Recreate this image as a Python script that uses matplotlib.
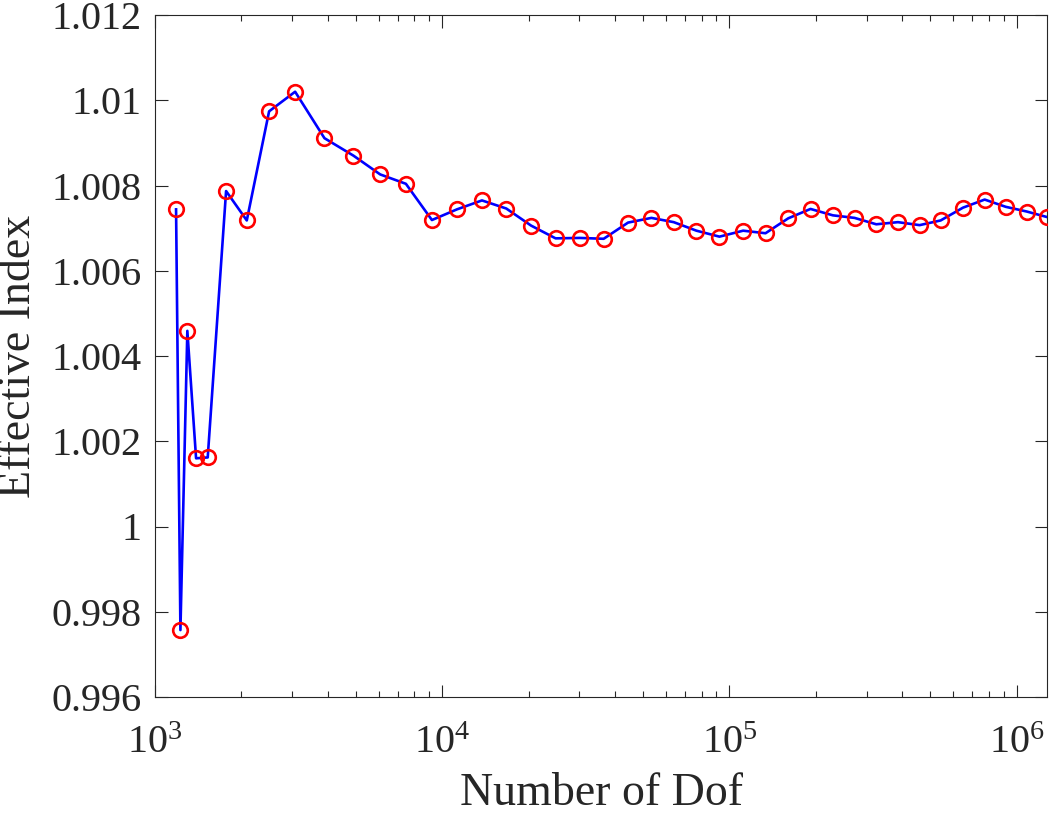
import matplotlib
matplotlib.use("Agg")
import matplotlib.pyplot as plt
from matplotlib.ticker import FixedLocator, FuncFormatter, LogLocator

dof = [1184, 1226, 1296, 1390, 1526, 1768, 2087, 2496, 3075, 3890, 4909, 6081,
       7473, 9207, 11250, 13750, 16710, 20380, 24810, 30090, 36480, 44360, 53480,
       63970, 76740, 92300, 111600, 133500, 160200, 191500, 229100, 272600,
       324400, 385900, 459200, 543500, 650100, 773500, 915700, 1083000, 1275000]
neff = [1.00744, 0.99757, 1.00459, 1.00160, 1.00162, 1.00787, 1.00718, 1.00974,
        1.01020, 1.00911, 1.00870, 1.00826, 1.00804, 1.00719, 1.00744, 1.00765,
        1.00746, 1.00706, 1.00676, 1.00677, 1.00675, 1.00713, 1.00724, 1.00714,
        1.00694, 1.00680, 1.00694, 1.00688, 1.00723, 1.00745, 1.00730, 1.00724,
        1.00709, 1.00714, 1.00707, 1.00718, 1.00748, 1.00767, 1.00750, 1.00739,
        1.00726]
yticks = [0.996, 0.998, 1.0, 1.002, 1.004, 1.006, 1.008, 1.010, 1.012]
xlabel = "Number of Dof"
ylabel = "Effective Index"

plt.rcParams['font.family'] = ['Liberation Serif', 'DejaVu Serif']
plt.rcParams['mathtext.fontset'] = 'custom'
plt.rcParams['mathtext.rm'] = 'Liberation Serif'
plt.rcParams['mathtext.it'] = 'Liberation Serif:italic'

axcol = '#262626'
fig = plt.figure(figsize=(10.57, 8.17), dpi=100)
ax = fig.add_axes([155/1057, 1-697/817, (1047-155)/1057, (697-15)/817])

ax.plot(dof, neff, '-', color='#0000ff', lw=1.9, zorder=2)
ax.plot(dof, neff, 'o', mfc='none', mec='#ff0000', ms=10.5, mew=1.9, zorder=3)

ax.set_xscale('log')
ax.set_xlim(1000, dof[-1])
ax.set_ylim(yticks[0], yticks[-1])
ax.yaxis.set_major_locator(FixedLocator(yticks))
ax.yaxis.set_major_formatter(FuncFormatter(lambda v, p: '%g' % round(v, 4)))
ax.xaxis.set_major_locator(LogLocator(base=10, numticks=10))
ax.xaxis.set_minor_locator(LogLocator(base=10, subs=range(2, 10), numticks=20))

ax.tick_params(which='both', direction='in', top=True, right=True,
               colors=axcol, labelcolor=axcol, width=0.8)
ax.tick_params(which='major', length=9, labelsize=29)
ax.tick_params(axis='y', which='major', pad=9.5)
ax.tick_params(axis='x', which='major', pad=20)
ax.tick_params(which='minor', length=4.5)
for s in ax.spines.values():
    s.set_color(axcol)
    s.set_linewidth(0.8)

ax.set_xlabel(xlabel, fontsize=33, color=axcol)
ax.set_ylabel(ylabel, fontsize=33, color=axcol, labelpad=8)
ax.xaxis.set_label_coords(0.5, -(815 - 697) / 682)
ax.xaxis.label.set_va('bottom')

fig.savefig('out.png', dpi=100)
